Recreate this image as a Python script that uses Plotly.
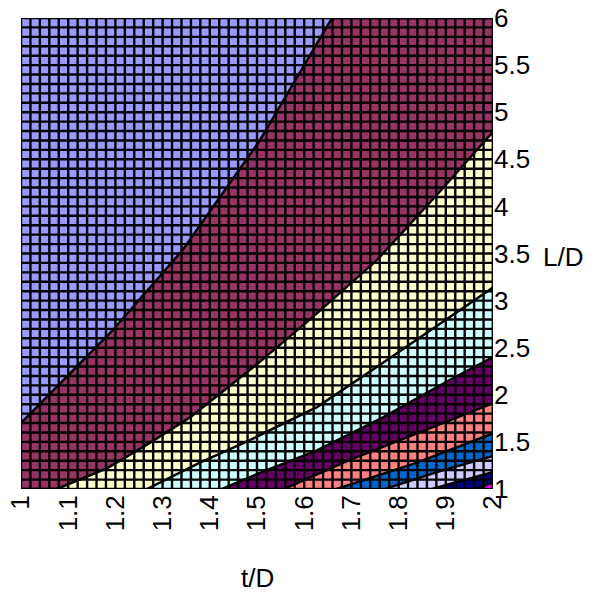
import plotly.graph_objects as go

# ---- axes / ticks ----
x_range = [1.0, 2.0]
y_range = [1.0, 6.0]
x_tick_vals = [1.0, 1.1, 1.2, 1.3, 1.4, 1.5, 1.6, 1.7, 1.8, 1.9, 2.0]
x_tick_labels = ["1", "1.1", "1.2", "1.3", "1.4", "1.5", "1.6", "1.7", "1.8", "1.9", "2"]
y_tick_vals = [1.0, 1.5, 2.0, 2.5, 3.0, 3.5, 4.0, 4.5, 5.0, 5.5, 6.0]
y_tick_labels = ["1", "1.5", "2", "2.5", "3", "3.5", "4", "4.5", "5", "5.5", "6"]

# surface mesh (sample positions of the surface data)
mesh_x = [round(1.0 + 0.02 * i, 2) for i in range(51)]
mesh_y = [round(1.0 + 0.1 * i, 1) for i in range(51)]

# ---- band colours (top-left band first) ----
band_colors = ["#9999FF", "#993366", "#FFFFCC", "#CCFFFF", "#660066",
               "#FF8080", "#0066CC", "#CCCCFF", "#000080", "#FF00FF"]

# ---- contour boundaries (t/D, L/D) ----
b1_x = [1.000, 1.195, 1.343, 1.506, 1.566, 1.659]
b1_y = [1.70, 2.69, 3.54, 4.70, 5.21, 6.00]
b2_x = [1.076, 1.182, 1.273, 1.358, 1.436, 1.506, 1.619, 1.754, 1.877, 2.000]
b2_y = [1.00, 1.22, 1.49, 1.76, 2.07, 2.35, 2.83, 3.43, 4.10, 4.79]
b3_x = [1.267, 1.379, 1.485, 1.627, 1.767, 1.909, 2.000]
b3_y = [1.00, 1.28, 1.52, 1.87, 2.34, 2.83, 3.14]
b4_x = [1.426, 1.506, 1.627, 1.767, 1.909, 2.000]
b4_y = [1.00, 1.17, 1.41, 1.76, 2.16, 2.40]
b5_x = [1.557, 1.697, 1.839, 2.000]
b5_y = [1.00, 1.31, 1.59, 1.91]
b6_x = [1.669, 1.839, 2.000]
b6_y = [1.00, 1.28, 1.59]
b7_x = [1.771, 1.888, 2.000]
b7_y = [1.00, 1.19, 1.35]
b8_x = [1.871, 1.930, 2.000]
b8_y = [1.00, 1.08, 1.18]
b9_x = [1.963, 2.000]
b9_y = [1.00, 1.07]

boundaries = [(b1_x, b1_y), (b2_x, b2_y), (b3_x, b3_y), (b4_x, b4_y), (b5_x, b5_y),
              (b6_x, b6_y), (b7_x, b7_y), (b8_x, b8_y), (b9_x, b9_y)]

fig = go.Figure()

x0, x1 = x_range
y0, y1 = y_range
for k, (bx, by) in enumerate(boundaries):
    px = list(bx)
    py = list(by)
    if k == 0:
        px += [x1, x1, x0]
        py += [y1, y0, y0]
    else:
        px += [x1]
        py += [y0]
    fig.add_trace(go.Scatter(x=px, y=py, mode="lines", fill="toself",
                             fillcolor=band_colors[k + 1],
                             line=dict(color="black", width=2.5),
                             hoverinfo="skip", showlegend=False))

# mesh lines
gx, gy = [], []
for v in mesh_x:
    gx += [v, v, None]
    gy += [y0, y1, None]
for v in mesh_y:
    gx += [x0, x1, None]
    gy += [v, v, None]
fig.add_trace(go.Scatter(x=gx, y=gy, mode="lines",
                         line=dict(color="black", width=2.4),
                         hoverinfo="skip", showlegend=False))

font_family = "Liberation Sans, Arial, sans-serif"

fig.update_layout(
    width=601, height=593,
    margin=dict(l=21, r=108, t=18, b=104),
    paper_bgcolor="white",
    plot_bgcolor=band_colors[0],
    font=dict(family=font_family, size=26, color="black"),
    xaxis=dict(range=x_range, tickvals=x_tick_vals, ticktext=x_tick_labels,
               tickangle=-90, showgrid=False, zeroline=False, showline=False,
               ticks="", tickfont=dict(size=26), automargin=False,
               ticklabeloverflow="allow"),
    yaxis=dict(range=y_range, tickvals=y_tick_vals, ticktext=y_tick_labels,
               side="right", showgrid=False, zeroline=False, showline=False,
               ticks="", tickfont=dict(size=26), automargin=False,
               ticklabeloverflow="allow"),
    annotations=[
        dict(text="L/D", xref="paper", yref="paper", x=1.148, y=0.4926,
             xanchor="center", yanchor="middle", showarrow=False,
             font=dict(size=26)),
        dict(text="t/D", xref="paper", yref="paper", x=0.502, y=-0.19,
             xanchor="center", yanchor="middle", showarrow=False,
             font=dict(size=26)),
    ],
)

fig.write_html("out.html",
               config={"displayModeBar": False},
               post_script="document.body.style.margin='0';")
